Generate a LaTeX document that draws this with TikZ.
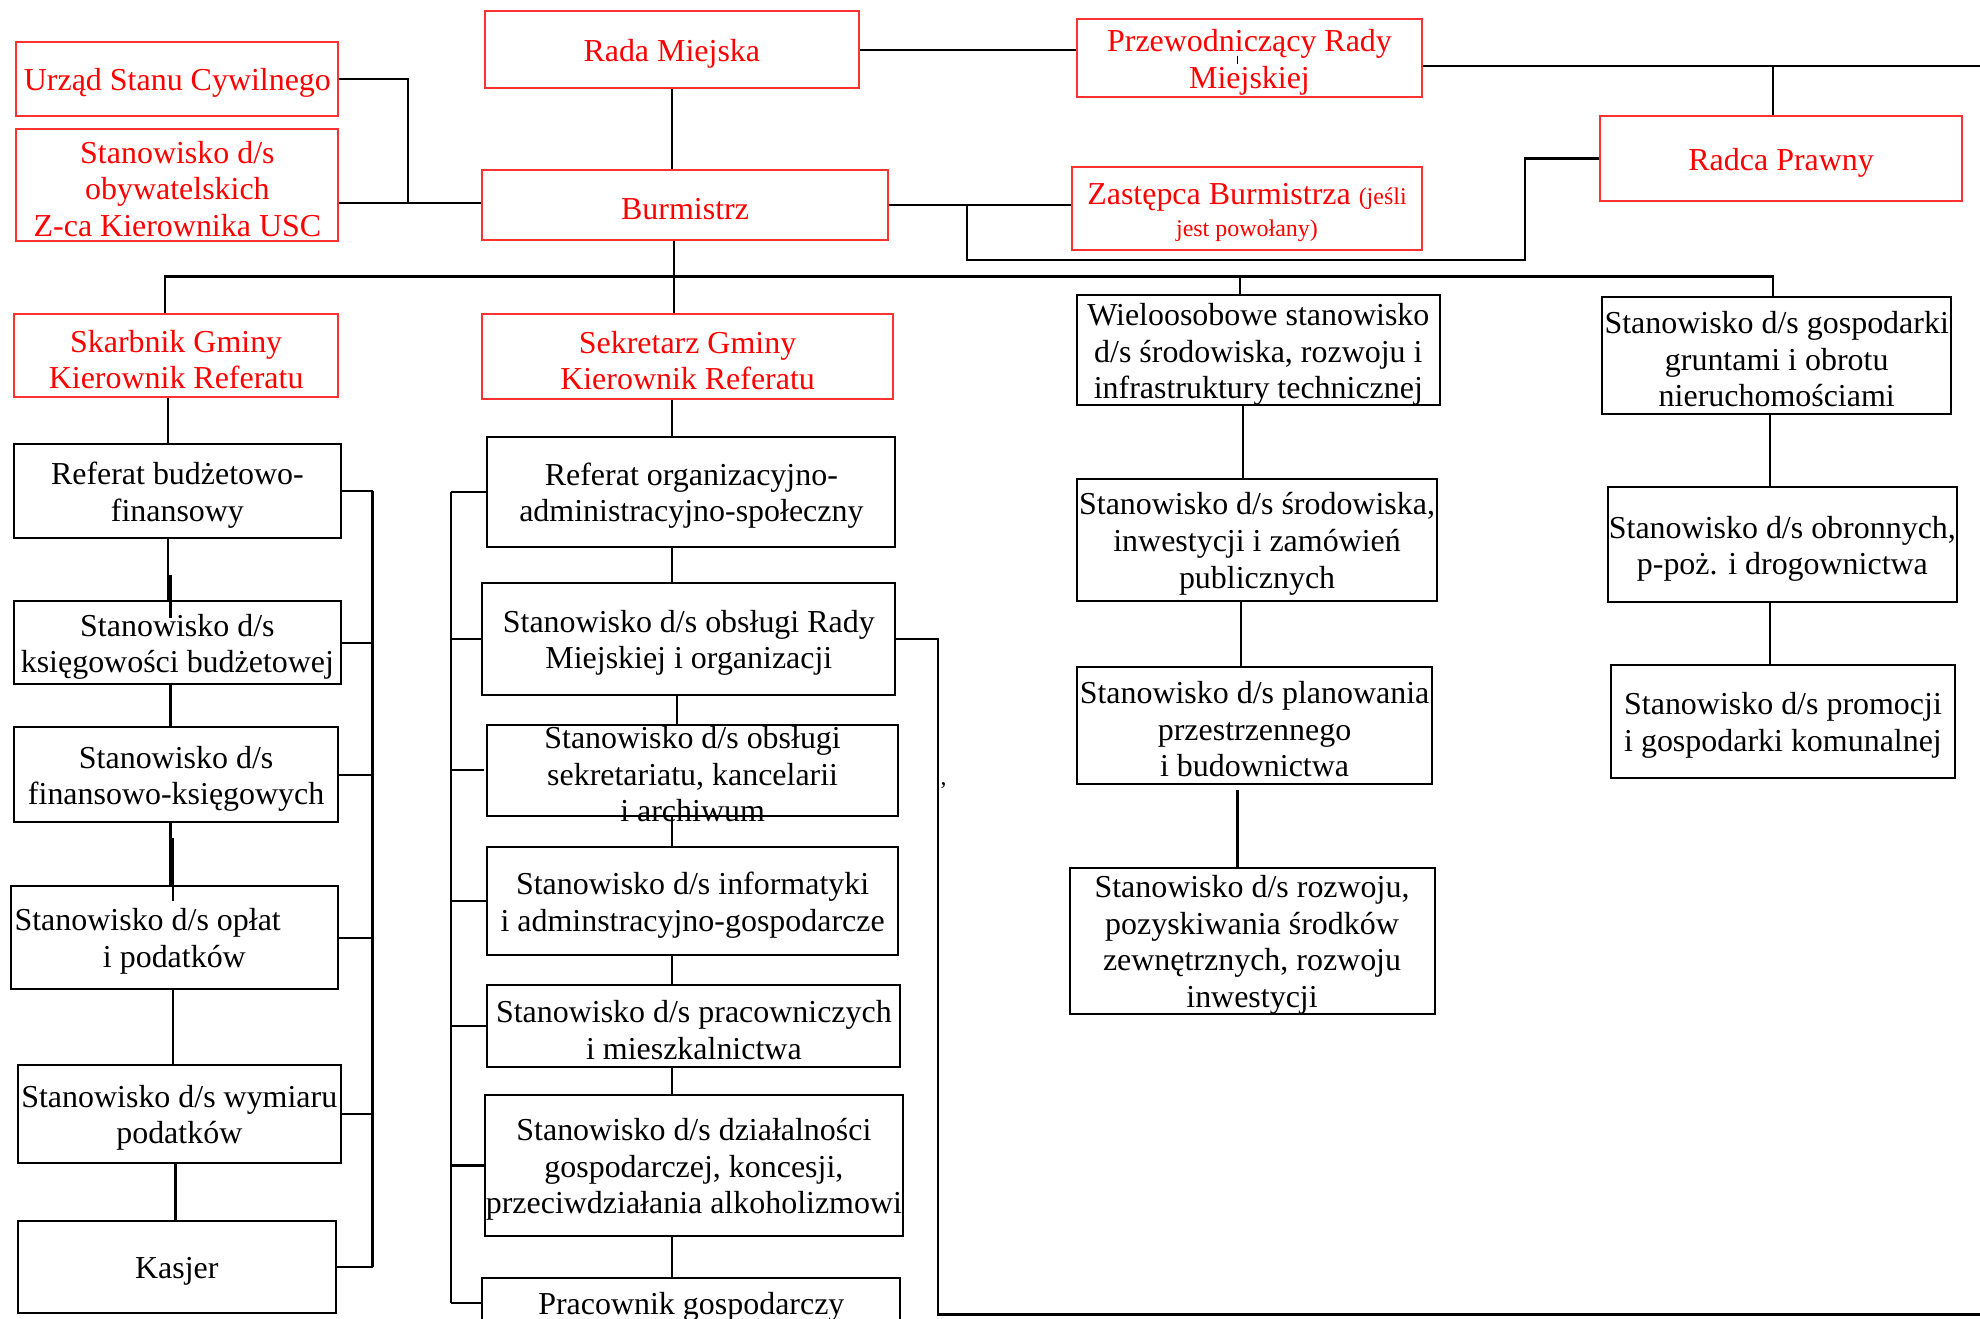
\documentclass[tikz,border=0pt]{standalone}
\usepackage{fontspec}
\setmainfont{Liberation Serif}
\definecolor{boxred}{RGB}{255,50,50}
\definecolor{txtred}{RGB}{255,0,0}
\newcommand\fs{\fontsize{14.4pt}{16.5pt}\selectfont}
\newcommand\sm{\fontsize{10.8pt}{12pt}\selectfont}
\newcommand\mkbox[7]{\node[#6, minimum width={(#4-#2)*0.02cm}, minimum height={(#5-#3)*0.02cm}] (#1) at ({(#2+#4)/2},{(#3+#5)/2}) {};
  \node[#6, draw=none] (#1t) at ([yshift=-1.8pt]#1.center) {#7};}
\begin{document}
\begin{tikzpicture}[x=0.02cm,y=-0.02cm,
  bx/.style={draw=black, line width=0.9pt, rectangle, inner sep=0pt, align=center, font=\fs, text=black},
  rbx/.style={bx, draw=boxred, text=txtred},
  txt/.style={inner sep=0pt, font=\fs, text=black},
  ln/.style={line width=0.95pt, black}]
\clip (0,0) rectangle (1568,1044);
\fill[white] (0,0) rectangle (1568,1044);
% red boxes
\mkbox{usc}{13}{33}{268}{92}{rbx}{Urząd Stanu Cywilnego}
\mkbox{obyw}{13}{102}{268}{191}{rbx}{Stanowisko d/s\\obywatelskich\\Z-ca Kierownika USC}
\mkbox{rada}{384}{9}{680}{70}{rbx}{Rada Miejska}
\mkbox{przew}{853}{15}{1126}{77}{rbx}{Przewodniczący Rady\\Miejskiej}
\mkbox{burm}{382}{135}{703}{190}{rbx}{Burmistrz}
\mkbox{zast}{849}{132}{1126}{198}{rbx}{Zastępca Burmistrza {\sm(jeśli}\\[-2pt]{\sm jest powołany)}}
\mkbox{radca}{1267}{92}{1554}{159}{rbx}{Radca Prawny}
\mkbox{skarb}{11}{249}{268}{314}{rbx}{Skarbnik Gminy\\Kierownik Referatu}
\mkbox{sekr}{382}{249}{707}{316}{rbx}{Sekretarz Gminy\\Kierownik Referatu}
% black boxes, top row
\mkbox{wiel}{853}{234}{1140}{321}{bx}{Wieloosobowe stanowisko\\d/s środowiska, rozwoju i\\infrastruktury technicznej}
\mkbox{grunt}{1269}{235}{1545}{328}{bx}{Stanowisko d/s gospodarki\\gruntami i obrotu\\nieruchomościami}
% left column
\mkbox{ref1}{11}{352}{270}{426}{bx}{Referat budżetowo-\\finansowy}
\mkbox{ksieg}{11}{476}{270}{542}{bx}{Stanowisko d/s\\księgowości budżetowej}
\mkbox{finans}{11}{576}{268}{651}{bx}{Stanowisko d/s\\finansowo-księgowych}
\mkbox{oplat}{9}{702}{268}{783}{bx}{}
\node[txt, anchor=west, align=left] (oplattxt) at ([xshift=0.06cm,yshift=-1.8pt]oplat.west) {Stanowisko d/s opłat\\\hspace*{1.4cm}i podatków};
\mkbox{wymiar}{14}{843}{270}{921}{bx}{Stanowisko d/s wymiaru\\podatków}
\mkbox{kasjer}{14}{967}{266}{1040}{bx}{Kasjer}
% middle column
\mkbox{org}{386}{346}{709}{433}{bx}{Referat organizacyjno-\\administracyjno-społeczny}
\mkbox{obsR}{382}{462}{709}{550}{bx}{Stanowisko d/s obsługi Rady\\Miejskiej i organizacji}
\mkbox{sekret}{386}{574}{711}{646}{bx}{}
\node[txt, align=center] (sekrettxt) at ([yshift=-0.06cm]sekret.center) {Stanowisko d/s obsługi\\sekretariatu, kancelarii\\i archiwum};
\mkbox{inf}{386}{671}{711}{756}{bx}{Stanowisko d/s informatyki\\i adminstracyjno-gospodarcze}
\mkbox{prac}{386}{780}{713}{845}{bx}{Stanowisko d/s pracowniczych\\i mieszkalnictwa}
\mkbox{dzial}{384}{867}{715}{979}{bx}{Stanowisko d/s działalności\\gospodarczej, koncesji,\\przeciwdziałania alkoholizmowi}
\mkbox{pracg}{382}{1012}{713}{1052}{bx}{Pracownik gospodarczy}
% right-middle column
\mkbox{srod}{853}{379}{1138}{476}{bx}{Stanowisko d/s środowiska,\\inwestycji i zamówień\\publicznych}
\mkbox{plan}{853}{528}{1134}{621}{bx}{Stanowisko d/s planowania\\przestrzennego\\i budownictwa}
\mkbox{rozw}{847}{687}{1136}{803}{bx}{Stanowisko d/s rozwoju,\\pozyskiwania środków\\zewnętrznych, rozwoju\\inwestycji}
% right column
\mkbox{obron}{1273}{386}{1550}{477}{bx}{Stanowisko d/s obronnych,\\p-poż. i drogownictwa}
\mkbox{prom}{1276}{527}{1548}{616}{bx}{Stanowisko d/s promocji\\i gospodarki komunalnej}
% helper coordinates
\coordinate (xL) at (323,161);
\coordinate (pj) at (1404,52);
\coordinate (pe) at (1568,52);
\coordinate (rj) at (1208,206);
\coordinate (zj) at (766,206);
\coordinate (bv) at (534,219);
\coordinate (bl) at (131,219);
\coordinate (bw) at (982,219);
\coordinate (br) at (1404,219);
\coordinate (c133) at (133,0);
\coordinate (c135) at (135,0);
\coordinate (c137) at (137,0);
\coordinate (c139) at (139,0);
\coordinate (rb) at (295,0);
\coordinate (mb) at (357,0);
\coordinate (c532) at (532,0);
\coordinate (c536) at (536,0);
\coordinate (oc) at (743,1041);
\coordinate (oe) at (1568,1041);
\coordinate (c980) at (980,0);
\coordinate (c983) at (983,0);
\coordinate (c984) at (984,0);
\coordinate (c1402) at (1402,0);
% top connectors
\draw[ln] (usc.east) -| (xL);
\draw[ln] (obyw.east |- xL) -- (xL) -- (xL -| burm.west);
\draw[ln] (rada.east) -- (rada.east -| przew.west);
\draw[ln] (rada.south) -- (rada.south |- burm.north);
\draw[ln] (pj -| przew.east) -- (pj) -- (pe);
\draw[ln] (pj) -- (pj |- radca.north);
\draw[ln] (burm.east) -- (burm.east -| zast.west);
\draw[ln] (radca.west) -| (rj) -- (zj) -- (zj |- burm.east);
\draw[ln] (bv |- burm.south) -- (bv |- sekr.north);
\draw[ln] (bl |- skarb.north) -- (bl) -- (br) -- (br |- grunt.north);
\draw[ln] (bw) -- (bw |- wiel.north);
\draw[line width=0.6pt] (c980 |- przew.center) ++(0,-2) -- ++(0,7);
% left column
\draw[ln] (c133 |- skarb.south) -- (c133 |- ref1.north);
\draw[ln] (c133 |- ref1.south) -- (c133 |- ksieg.north);
\draw[ln] (c135 |- ksieg.north) ++(0,-20) -- ++(0,34);
\draw[ln] (c135 |- ksieg.south) -- (c135 |- finans.north);
\draw[ln] (c135 |- finans.south) -- (c135 |- oplat.north);
\draw[ln] (c137 |- finans.south) ++(0,12) -- ++(0,50);
\draw[ln] (c137 |- oplat.south) -- (c137 |- wymiar.north);
\draw[ln] (c139 |- wymiar.south) -- (c139 |- kasjer.north);
\foreach \n in {ref1,ksieg,finans,oplat,wymiar,kasjer}
  \draw[ln] (\n.east) -- (\n.east -| rb);
\draw[ln] (rb |- ref1.east) -- (rb |- kasjer.east);
% middle column
\draw[ln] (c532 |- sekr.south) -- (c532 |- org.north);
\draw[ln] (c532 |- org.south) -- (c532 |- obsR.north);
\draw[ln] (c536 |- obsR.south) -- (c536 |- sekret.north);
\draw[ln] (c532 |- sekret.south) -- (c532 |- inf.north);
\draw[ln] (c532 |- inf.south) -- (c532 |- prac.north);
\draw[ln] (c532 |- prac.south) -- (c532 |- dzial.north);
\draw[ln] (c532 |- dzial.south) -- (c532 |- pracg.north);
\foreach \n in {org,obsR,inf,prac,dzial,pracg}
  \draw[ln] (\n.west) -- (\n.west -| mb);
\draw[ln] ([xshift=-0.04cm]sekret.west) -- (sekret.west -| mb);
\draw[ln] (mb |- org.west) -- (mb |- pracg.west);
\draw[ln] (obsR.east) -| (oc) -- (oe);
\node[inner sep=0pt, font=\sm] (mark) at (747,626) {’};
% right-middle column
\draw[ln] (c984 |- wiel.south) -- (c984 |- srod.north);
\draw[ln] (c983 |- srod.south) -- (c983 |- plan.north);
\draw[ln] (c980 |- plan.south) ++(0,4) -- (c980 |- rozw.north);
% right column
\draw[ln] (c1402 |- grunt.south) -- (c1402 |- obron.north);
\draw[ln] (c1402 |- obron.south) -- (c1402 |- prom.north);
\end{tikzpicture}
\end{document}
